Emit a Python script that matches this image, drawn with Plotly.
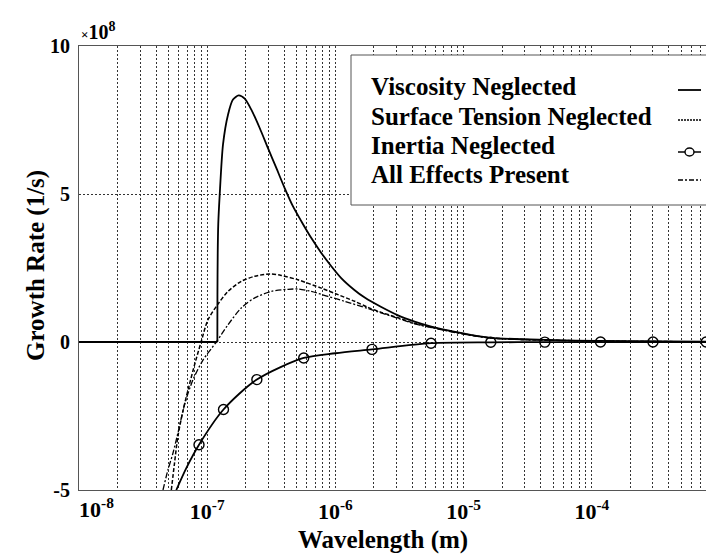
import plotly.graph_objects as go

# ---------------- data (growth rate in units of 1e8 1/s) ----------------
VN_x = [1e-8, 1.200e-7, 1.202e-7, 1.208e-7, 1.22e-7, 1.252e-7, 1.328e-7, 1.453e-7, 1.589e-7,
        1.761e-7, 1.961e-7, 2.208e-7, 2.567e-7, 2.98e-7, 3.46e-7, 4.02e-7, 4.67e-7, 5.42e-7,
        6.49e-7, 7.76e-7, 9.29e-7, 1.11e-6, 1.414e-6, 1.693e-6, 2.28e-6, 3.08e-6, 4.15e-6,
        5.60e-6, 7.55e-6, 1.02e-5, 1.64e-5, 4.55e-5, 1.12e-4, 1e-3]
VN_y = [0, 0, 1.6, 3.0, 4.0, 4.98, 6.67, 7.68, 8.19,
        8.33, 8.22, 7.85, 7.23, 6.55, 5.88, 5.20, 4.58, 4.08,
        3.51, 3.01, 2.56, 2.16, 1.75, 1.50, 1.18, 0.90, 0.69,
        0.52, 0.39, 0.28, 0.14, 0.07, 0.035, 0.01]

ST_x = [5.25e-8, 5.56e-8, 5.91e-8, 6.47e-8, 7.21e-8, 8.04e-8, 8.96e-8, 1.014e-7, 1.213e-7,
        1.452e-7, 1.845e-7, 2.346e-7, 3.09e-7, 3.78e-7, 5.11e-7, 7.76e-7, 1.047e-6, 1.414e-6,
        1.794e-6, 2.28e-6, 3.08e-6, 4.15e-6, 5.60e-6, 7.55e-6, 1.02e-5, 1.64e-5, 4.55e-5,
        1.12e-4, 1e-3]
ST_y = [-5.0, -4.09, -3.18, -2.33, -1.49, -0.71, 0, 0.75, 1.28,
        1.71, 2.05, 2.22, 2.30, 2.25, 2.10, 1.82, 1.60, 1.375,
        1.17, 1.00, 0.82, 0.63, 0.50, 0.38, 0.27, 0.135, 0.065,
        0.03, 0.005]

AE_x = [4.52e-8, 4.94e-8, 5.41e-8, 6.03e-8, 6.71e-8, 7.74e-8, 9.27e-8, 1.178e-7, 1.452e-7,
        1.845e-7, 2.346e-7, 3.16e-7, 4.27e-7, 5.11e-7, 6.49e-7, 8.75e-7, 1.182e-6, 1.794e-6,
        2.28e-6, 3.08e-6, 4.15e-6, 5.60e-6, 7.55e-6, 1.02e-5, 1.64e-5, 4.55e-5, 1.12e-4, 1e-3]
AE_y = [-5.0, -4.32, -3.75, -2.91, -2.06, -1.28, -0.61, 0, 0.58,
        1.15, 1.49, 1.71, 1.78, 1.79, 1.71, 1.54, 1.375, 1.13,
        0.98, 0.80, 0.61, 0.49, 0.37, 0.26, 0.13, 0.06, 0.03, 0.005]

IN_x = [5.74e-8, 6.87e-8, 8.63e-8, 1.34e-7, 2.44e-7, 5.66e-7, 1.0e-6, 1.93e-6, 5.57e-6,
        1.63e-5, 4.30e-5, 1.17e-4, 3.0e-4, 7.8e-4, 1e-3]
IN_y = [-5.0, -4.26, -3.47, -2.28, -1.27, -0.54, -0.38, -0.25, -0.04,
        -0.01, -0.005, -0.002, -0.001, 0, 0]
IN_mark_x = [8.63e-8, 1.34e-7, 2.44e-7, 5.66e-7, 1.93e-6, 5.57e-6, 1.63e-5, 4.30e-5,
             1.17e-4, 3.0e-4, 7.8e-4]
IN_mark_y = [-3.47, -2.28, -1.27, -0.54, -0.25, -0.04, -0.01, -0.005, -0.002, -0.001, 0]

series_names = ["Viscosity Neglected", "Surface Tension Neglected",
                "Inertia Neglected", "All Effects Present"]

y_ticks = [-5, 0, 5, 10]
x_decades = [-8, -7, -6, -5, -4, -3]

# ---------------- layout helpers ----------------
W, H = 714, 558
PL, PR, PT, PB = 71, 712, 38, 482
def fx(p): return (p - PL) / (PR - PL)
def fy(p): return (PB - p) / (PB - PT)

FONT = "Liberation Serif"
BLACK = "#000000"

fig = go.Figure()
# Viscosity neglected: flat part up to cutoff, then smooth rise and decay
fig.add_trace(go.Scatter(x=VN_x[:2], y=VN_y[:2], mode="lines",
                         line=dict(color=BLACK, width=1.8), showlegend=False))
fig.add_trace(go.Scatter(x=VN_x[1:], y=VN_y[1:], mode="lines",
                         line=dict(color=BLACK, width=1.8, shape="spline", smoothing=0.7),
                         showlegend=False))
fig.add_trace(go.Scatter(x=ST_x, y=ST_y, mode="lines",
                         line=dict(color=BLACK, width=1.5, dash="4px,2px", shape="spline", smoothing=0.8),
                         showlegend=False))
fig.add_trace(go.Scatter(x=AE_x, y=AE_y, mode="lines",
                         line=dict(color=BLACK, width=1.3, dash="6px,2px,2px,2px", shape="spline", smoothing=0.8),
                         showlegend=False))
fig.add_trace(go.Scatter(x=IN_x, y=IN_y, mode="lines",
                         line=dict(color=BLACK, width=1.8, shape="spline", smoothing=0.8),
                         showlegend=False))
fig.add_trace(go.Scatter(x=IN_mark_x, y=IN_mark_y, mode="markers",
                         marker=dict(symbol="circle-open", size=10, color=BLACK, line=dict(width=1.4)),
                         showlegend=False))

# x ticks: gridlines at every 1..9 x 10^n, labels only at decades
# (the first decade label is drawn as an annotation, nudged right of the corner)
xt_vals, xt_text = [], []
for e in x_decades:
    for m in range(1, 10):
        if e == -3 and m > 1:
            break
        xt_vals.append(m * 10.0 ** e)
        xt_text.append("10<sup>%d</sup>" % e if (m == 1 and e != x_decades[0]) else "")

TICKFONT_X = dict(family=FONT, size=22, color=BLACK, weight="bold")
fig.update_xaxes(type="log", range=[-8, -3], tickvals=xt_vals, ticktext=xt_text,
                 showgrid=True, gridcolor="#333333", gridwidth=1, griddash="2px,2px",
                 showline=True, linecolor="#555555", linewidth=1, mirror=True,
                 ticks="", zeroline=False, ticklabelstandoff=2,
                 tickfont=TICKFONT_X)
fig.update_yaxes(range=[-5, 10], tickvals=y_ticks, ticktext=[str(v) for v in y_ticks],
                 showgrid=True, gridcolor="#333333", gridwidth=1, griddash="2px,2px",
                 showline=True, linecolor="#555555", linewidth=1, mirror=True,
                 ticks="", zeroline=False, ticklabelstandoff=4,
                 tickfont=dict(family=FONT, size=20, color=BLACK, weight="bold"))

shapes = []
# legend box
shapes.append(dict(type="rect", xref="paper", yref="paper", layer="above",
                   x0=fx(343), x1=fx(710), y0=fy(197), y1=fy(47),
                   fillcolor="white", line=dict(color="#555555", width=1)))
annotations = []
text_y = [79, 108, 137, 166]
sample_y = [82, 112, 144, 172]
for name, ty in zip(series_names, text_y):
    annotations.append(dict(xref="paper", yref="paper", x=fx(361), y=fy(ty), text=name,
                            showarrow=False, xanchor="left", yanchor="middle",
                            font=dict(family=FONT, size=25, color=BLACK, weight="bold")))
sx0, sx1 = fx(670), fx(693)
shapes.append(dict(type="line", xref="paper", yref="paper", layer="above",
                   x0=sx0, x1=sx1, y0=fy(sample_y[0]), y1=fy(sample_y[0]),
                   line=dict(color=BLACK, width=1.8)))
shapes.append(dict(type="line", xref="paper", yref="paper", layer="above",
                   x0=sx0, x1=sx1, y0=fy(sample_y[1]), y1=fy(sample_y[1]),
                   line=dict(color=BLACK, width=1.5, dash="2px,1px")))
shapes.append(dict(type="line", xref="paper", yref="paper", layer="above",
                   x0=sx0, x1=sx1, y0=fy(sample_y[2]), y1=fy(sample_y[2]),
                   line=dict(color=BLACK, width=1.5)))
shapes.append(dict(type="circle", xref="paper", yref="paper", layer="above",
                   x0=fx(681.5 - 4.5), x1=fx(681.5 + 4.5), y0=fy(sample_y[2] + 4), y1=fy(sample_y[2] - 4),
                   fillcolor="white", line=dict(color=BLACK, width=1.4)))
shapes.append(dict(type="line", xref="paper", yref="paper", layer="above",
                   x0=sx0, x1=sx1, y0=fy(sample_y[3]), y1=fy(sample_y[3]),
                   line=dict(color=BLACK, width=1.3, dash="5px,2px,2px,2px")))

# first x tick label (left-aligned at the axis start)
annotations.append(dict(xref="x", yref="paper", x=x_decades[0], y=fy(500),
                        text="10<sup>%d</sup>" % x_decades[0],
                        showarrow=False, xanchor="left", yanchor="middle", xshift=-2,
                        font=TICKFONT_X))
# axis titles and exponent
annotations.append(dict(xref="paper", yref="paper", x=fx(375), y=fy(532), text="Wavelength (m)",
                        showarrow=False, xanchor="center", yanchor="middle",
                        font=dict(family=FONT, size=25, color=BLACK, weight="bold")))
annotations.append(dict(xref="paper", yref="paper", x=fx(28), y=fy(258), text="Growth Rate (1/s)",
                        showarrow=False, xanchor="center", yanchor="middle", textangle=-90,
                        font=dict(family=FONT, size=25, color=BLACK, weight="bold")))
annotations.append(dict(xref="paper", yref="paper", x=fx(71), y=fy(23),
                        text="<span style='font-size:13px'>×</span>10<sup>8</sup>",
                        showarrow=False, xanchor="left", yanchor="middle",
                        font=dict(family=FONT, size=20, color=BLACK, weight="bold")))

fig.update_layout(width=W, height=H, margin=dict(l=PL, r=W - PR, t=PT, b=H - PB),
                  paper_bgcolor="white", plot_bgcolor="white",
                  shapes=shapes, annotations=annotations, showlegend=False)

fig.write_html("out.html")
